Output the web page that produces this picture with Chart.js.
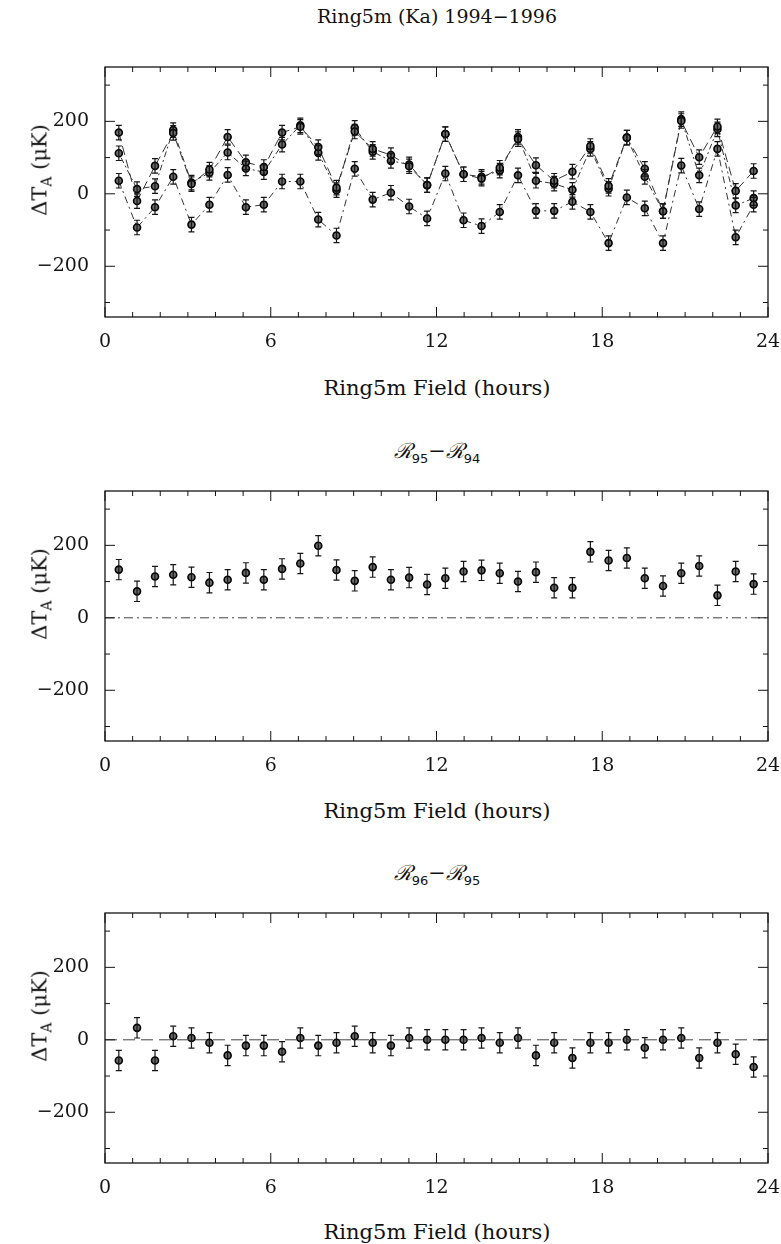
<!DOCTYPE html>
<html>
<head>
<meta charset="utf-8">
<script src="https://cdn.jsdelivr.net/npm/chart.js@4.4.1/dist/chart.umd.min.js"></script>
<style>
  body { margin: 0; background: #fff; width: 781px; height: 1244px; position: relative; overflow: hidden; }
  .panel { position: absolute; left: 0; width: 781px; height: 310px; }
  .txt { position: absolute; font-family: "DejaVu Serif", serif; font-size: 21px; color: #111; white-space: nowrap; transform: translate(-50%, -50%); }
  .main { font-size: 19px; }
  .ylab { position: absolute; font-family: "DejaVu Serif", serif; font-size: 21px; color: #111; white-space: nowrap; transform: translate(-50%, -50%) rotate(-90deg); }
  .ylab sub { font-size: 14px; }
  .scr { font-family: "DejaVu Serif", serif; font-style: italic; font-size: 21px; }
  .scr sub { font-family: "DejaVu Sans", sans-serif; font-style: normal; font-size: 13px; }
</style>
</head>
<body>

<div class="txt main" style="left:437px; top:16px;">Ring5m (Ka) 1994&minus;1996</div>
<div class="panel" style="top:57px;"><canvas id="chart1"></canvas></div>
<div class="ylab" style="left:41px; top:170px;">&Delta;T<sub>A</sub> (&mu;K)</div>
<div class="txt" style="left:437px; top:388px;">Ring5m Field (hours)</div>

<div class="txt" style="left:437px; top:451px;"><span class="scr">&#8475;<sub>95</sub>&minus;&#8475;<sub>94</sub></span></div>
<div class="panel" style="top:481px;"><canvas id="chart2"></canvas></div>
<div class="ylab" style="left:41px; top:594px;">&Delta;T<sub>A</sub> (&mu;K)</div>
<div class="txt" style="left:437px; top:811px;">Ring5m Field (hours)</div>

<div class="txt" style="left:437px; top:873px;"><span class="scr">&#8475;<sub>96</sub>&minus;&#8475;<sub>95</sub></span></div>
<div class="panel" style="top:903px;"><canvas id="chart3"></canvas></div>
<div class="ylab" style="left:41px; top:1016px;">&Delta;T<sub>A</sub> (&mu;K)</div>
<div class="txt" style="left:437px; top:1232px;">Ring5m Field (hours)</div>

<script>
// bin centres (hours of RA)
const hours = [0.50, 1.16, 1.81, 2.47, 3.13, 3.78, 4.44, 5.10, 5.75, 6.41, 7.07, 7.72,
               8.38, 9.04, 9.69, 10.35, 11.01, 11.66, 12.32, 12.98, 13.63, 14.29, 14.95, 15.60,
               16.26, 16.92, 17.57, 18.23, 18.89, 19.54, 20.20, 20.86, 21.51, 22.17, 22.83, 23.48];

// top panel: the three seasons (uK)
const r94 = [36, -93, -37, 47, -85, -30, 52, -37, -30, 34, 34, -71,
             -115, 69, -16, 3, -35, -68, 56, -73, -89, -50, 51, -47,
             -47, -22, -50, -136, -10, -40, -136, 78, -42, 124, -120, -30];
const r95 = [169, -20, 77, 168, 27, 67, 157, 87, 74, 169, 185, 129,
             17, 172, 124, 107, 76, 24, 165, 54, 42, 72, 151, 79,
             36, 61, 132, 22, 155, 69, -48, 201, 101, 186, 8, 63];
const r96 = [112, 13, 21, 176, 31, 58, 114, 70, 60, 136, 189, 113,
             10, 182, 116, 91, 81, 24, 165, 54, 47, 64, 157, 36,
             28, 11, 124, 14, 155, 47, -48, 206, 51, 178, -32, -12];

// difference panels
const diff9594 = [133, 73, 114, 119, 112, 97, 105, 124, 105, 135, 150, 199,
                  132, 102, 140, 105, 111, 92, 109, 128, 131, 123, 100, 126,
                  83, 83, 182, 158, 165, 109, 88, 123, 143, 62, 128, 93];
const diff9695 = [-57, 33, -57, 10, 5, -8, -43, -16, -16, -33, 5, -16,
                  -8, 10, -8, -16, 5, 0, 0, 0, 5, -8, 5, -43,
                  -8, -50, -8, -8, 0, -22, 0, 5, -50, -8, -40, -75];

const errSeason = 20;
const errDiff = 28;

const xLabels = [0, 6, 12, 18, 24];
const yLabels = [-200, 0, 200];
const yMin = -340, yMax = 350;

const ink = '#151515';
const fontSpec = { family: 'DejaVu Serif', size: 19 };

// error bars drawn from the scales
const errorBars = {
    id: 'errorBars',
    afterDatasetsDraw(chart) {
        const ctx = chart.ctx;
        const yScale = chart.scales.y;
        ctx.save();
        ctx.strokeStyle = ink;
        ctx.lineWidth = 1.2;
        chart.data.datasets.forEach((ds, di) => {
            if (ds.err === undefined) return;
            const meta = chart.getDatasetMeta(di);
            meta.data.forEach((pt, i) => {
                const v = ds.data[i].y;
                const top = yScale.getPixelForValue(v + ds.err);
                const bot = yScale.getPixelForValue(v - ds.err);
                ctx.beginPath();
                ctx.moveTo(pt.x, top); ctx.lineTo(pt.x, bot);
                ctx.moveTo(pt.x - 3, top); ctx.lineTo(pt.x + 3, top);
                ctx.moveTo(pt.x - 3, bot); ctx.lineTo(pt.x + 3, bot);
                ctx.stroke();
            });
        });
        ctx.restore();
    }
};

// frame with inward ticks on all four sides
const frameTicks = {
    id: 'frameTicks',
    afterDraw(chart) {
        const ctx = chart.ctx;
        const a = chart.chartArea;
        const xs = chart.scales.x, ys = chart.scales.y;
        ctx.save();
        ctx.strokeStyle = ink;
        ctx.lineWidth = 1.3;
        ctx.strokeRect(a.left, a.top, a.right - a.left, a.bottom - a.top);
        ctx.lineWidth = 1;
        ctx.beginPath();
        for (let h = 0; h <= 24; h++) {
            const px = xs.getPixelForValue(h);
            const len = (h % 6 === 0) ? 10 : 5;
            ctx.moveTo(px, a.bottom); ctx.lineTo(px, a.bottom - len);
            ctx.moveTo(px, a.top); ctx.lineTo(px, a.top + len);
        }
        for (let v = -300; v <= 300; v += 100) {
            const py = ys.getPixelForValue(v);
            const len = (v % 200 === 0) ? 10 : 5;
            ctx.moveTo(a.left, py); ctx.lineTo(a.left + len, py);
            ctx.moveTo(a.right, py); ctx.lineTo(a.right - len, py);
        }
        ctx.stroke();
        ctx.restore();
    }
};

function pts(arr) {
    return arr.map((v, i) => ({ x: hours[i], y: v }));
}

function seriesSet(arr, dash) {
    return {
        data: pts(arr),
        err: errSeason,
        showLine: true,
        borderColor: '#333',
        borderWidth: 1,
        borderDash: dash,
        pointRadius: 3.5,
        pointBorderWidth: 1.6,
        pointBorderColor: '#000',
        pointBackgroundColor: '#6a6a6a'
    };
}

function zeroSet(dash) {
    return {
        data: [{ x: 0, y: 0 }, { x: 24, y: 0 }],
        showLine: true,
        borderColor: '#444',
        borderWidth: 1,
        borderDash: dash,
        pointRadius: 0
    };
}

function diffSet(arr) {
    return {
        data: pts(arr),
        err: errDiff,
        showLine: false,
        pointRadius: 3.5,
        pointBorderWidth: 1.6,
        pointBorderColor: '#000',
        pointBackgroundColor: '#6a6a6a'
    };
}

function makeConfig(datasets) {
    return {
        type: 'scatter',
        data: { datasets: datasets },
        plugins: [errorBars, frameTicks],
        options: {
            responsive: false,
            animation: false,
            events: [],
            layout: { padding: { top: 10, right: 13, left: 0, bottom: 0 } },
            plugins: { legend: { display: false }, tooltip: { enabled: false } },
            scales: {
                x: {
                    type: 'linear', min: 0, max: 24,
                    afterBuildTicks: (s) => { s.ticks = xLabels.map(v => ({ value: v })); },
                    afterFit: (s) => { s.height = 50; s.paddingLeft = 0; s.paddingRight = 0; },
                    grid: { display: false, drawTicks: false },
                    border: { display: false },
                    ticks: { font: fontSpec, color: ink, padding: 14, maxRotation: 0 }
                },
                y: {
                    type: 'linear', min: yMin, max: yMax,
                    afterBuildTicks: (s) => { s.ticks = yLabels.map(v => ({ value: v })); },
                    afterFit: (s) => { s.width = 105; s.paddingTop = 0; s.paddingBottom = 0; },
                    grid: { display: false, drawTicks: false },
                    border: { display: false },
                    ticks: {
                        font: fontSpec, color: ink, padding: 16,
                        callback: (v) => (v < 0 ? '\u2212' + Math.abs(v) : '' + v)
                    }
                }
            }
        }
    };
}

function setupCanvas(id) {
    const c = document.getElementById(id);
    c.width = 781; c.height = 310;
    c.style.width = '781px'; c.style.height = '310px';
    return c.getContext('2d');
}

const chart1 = new Chart(setupCanvas('chart1'), makeConfig([
    seriesSet(r94, [7, 4, 2, 4]),
    seriesSet(r95, [9, 5]),
    seriesSet(r96, [2, 3, 6, 3])
]));

const chart2 = new Chart(setupCanvas('chart2'), makeConfig([
    zeroSet([9, 4, 2, 4]),
    diffSet(diff9594)
]));

const chart3 = new Chart(setupCanvas('chart3'), makeConfig([
    zeroSet([12, 6]),
    diffSet(diff9695)
]));
</script>
</body>
</html>
